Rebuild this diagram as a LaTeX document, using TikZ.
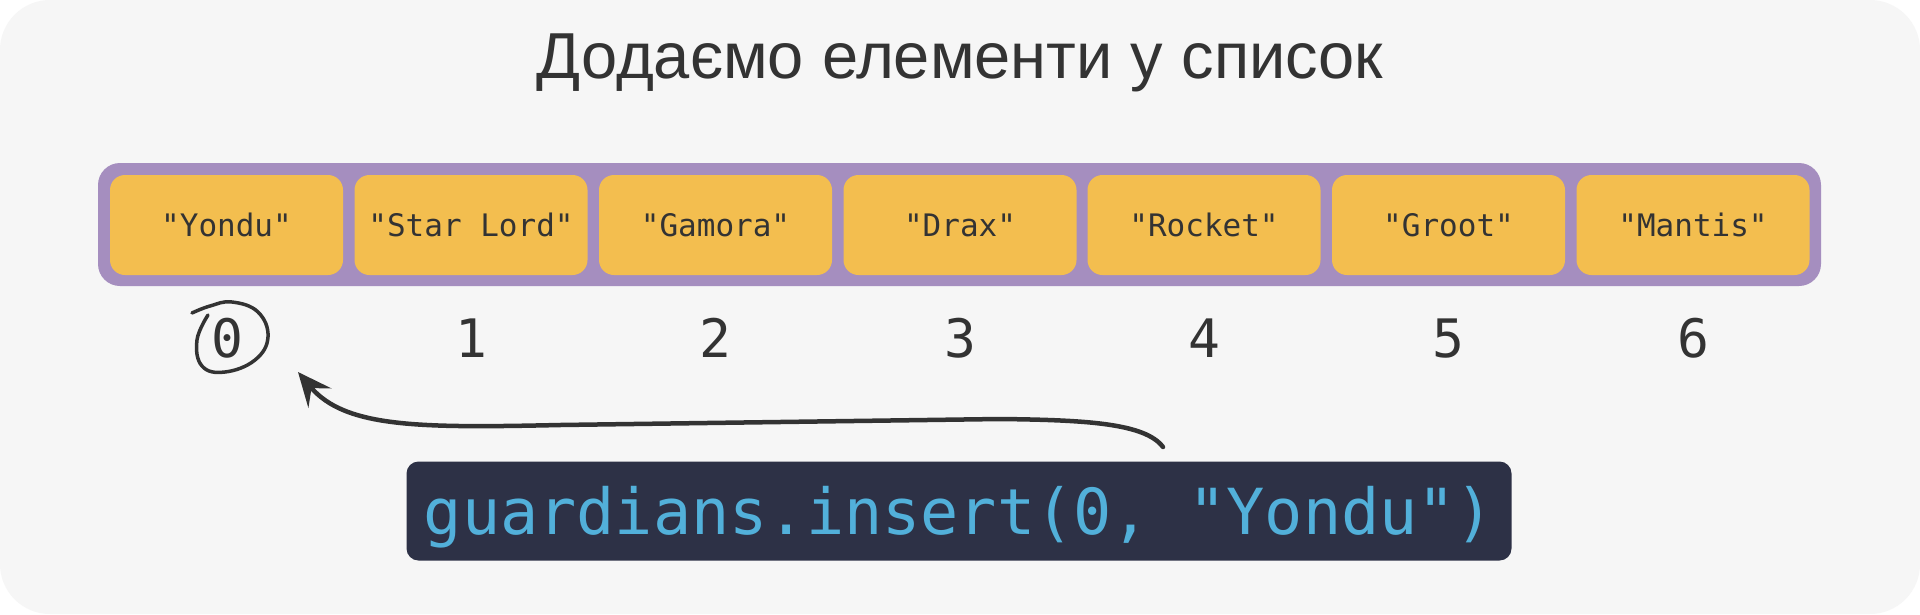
\documentclass[tikz,border=0pt]{standalone}
\usepackage{fontspec}
\setmainfont{Liberation Sans}
\newfontfamily\monof{DejaVu Sans Mono}
\usetikzlibrary{arrows.meta}
\definecolor{bgc}{HTML}{F6F6F6}
\definecolor{ink}{HTML}{333333}
\definecolor{lav}{HTML}{A58EBF}
\definecolor{ylw}{HTML}{F3BE4F}
\definecolor{navy}{HTML}{2D3146}
\definecolor{codeblue}{HTML}{52B0DA}
\tikzset{
  ybox/.style={fill=ylw, rounded corners=15pt, minimum width=233pt, minimum height=100pt,
    inner sep=0pt, text height=22.6pt, text depth=0pt, text=ink,
    font=\monof\fontsize{31}{36}\selectfont},
  idx/.style={anchor=base, text=ink, inner sep=0pt, font=\monof\fontsize{53}{58}\selectfont},
  codebox/.style={fill=navy, rounded corners=12pt, minimum width=1105pt, minimum height=99pt,
    inner sep=0pt, text height=46pt, text depth=0pt, text=codeblue,
    font=\monof\fontsize{63.5}{70}\selectfont},
  hand/.style={draw=ink, line width=4.5pt, line cap=round, line join=round},
}
\begin{document}
\begin{tikzpicture}[x=1pt,y=-1pt]
\useasboundingbox (0,0) rectangle (1920,614);
\fill[white] (0,0) rectangle (1920,614);
\fill[bgc, rounded corners=50pt] (0,0) rectangle (1920,614);
\node[anchor=base, text=ink, inner sep=0pt, font=\fontsize{65}{78}\selectfont] (title) at (960,78) {Додаємо елементи у список};
\fill[lav, rounded corners=22pt] (98,163) rectangle (1821,286);
\node[ybox] (b0) at (226.5,225) {"Yondu"};
\node[ybox] (b1) at (471,225) {"Star Lord"};
\node[ybox] (b2) at (715.5,225) {"Gamora"};
\node[ybox] (b3) at (960,225) {"Drax"};
\node[ybox] (b4) at (1204,225) {"Rocket"};
\node[ybox] (b5) at (1448.5,225) {"Groot"};
\node[ybox] (b6) at (1693,225) {"Mantis"};
\node[idx] (i0) at (227,357) {0};
\node[idx] (i1) at (471,357) {1};
\node[idx] (i2) at (715.5,357) {2};
\node[idx] (i3) at (960,357) {3};
\node[idx] (i4) at (1204,357) {4};
\node[idx] (i5) at (1448.5,357) {5};
\node[idx] (i6) at (1693,357) {6};
\draw[draw=ink, line width=3.5pt, line cap=round] plot[smooth, tension=0.7] coordinates {(208,315) (197,340) (202,366) (225,372) (255,360) (268,337) (258,312) (232,302) (210,306) (192,313)};
\node[codebox] (code) at (959,511) {guardians.insert(0, "Yondu")};
\coordinate (aStart) at (1163,447);
\coordinate (aEnd) at (298,372);
\draw[hand, -{Stealth[length=34pt, width=30pt, inset=13pt]}] (aStart) .. controls (1145,423) and (1085,420) .. (1000,419) -- (560,425) .. controls (420,428) and (345,428) .. (aEnd);
\end{tikzpicture}
\end{document}
